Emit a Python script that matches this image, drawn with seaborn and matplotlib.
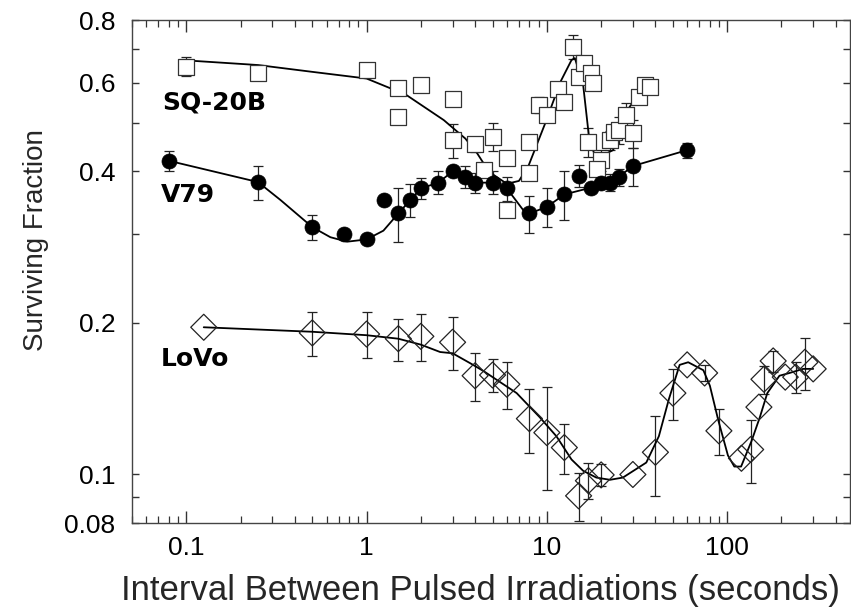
import numpy as np
import matplotlib
matplotlib.use("Agg")
import matplotlib.pyplot as plt
import matplotlib.ticker as mticker
import seaborn as sns

# SQ-20B (open squares)
sq_x = [0.1, 0.25, 1.0, 1.5, 1.5, 2.0, 3.0, 3.0, 4.0, 4.5, 5.0, 6.0, 6.0, 8.0, 8.0,
        9.0, 10.0, 11.5, 12.5, 14.0, 15.0, 16.0, 17.5, 18.0, 17.0, 20.0, 19.0,
        22.5, 23.5, 25.0, 27.5, 30.0, 32.5, 35.0, 37.5]
sq_y = [0.646, 0.627, 0.636, 0.587, 0.513, 0.593, 0.558, 0.461, 0.453, 0.403, 0.469,
        0.425, 0.335, 0.458, 0.397, 0.542, 0.518, 0.583, 0.550, 0.708, 0.616, 0.656,
        0.628, 0.600, 0.458, 0.421, 0.405, 0.462, 0.480, 0.484, 0.518, 0.476, 0.563,
        0.594, 0.588]
sq_err = [0.028, 0, 0, 0, 0, 0, 0, 0.035, 0.015, 0, 0.03, 0, 0, 0, 0,
          0.02, 0, 0, 0, 0.04, 0, 0, 0, 0, 0.03, 0.02, 0,
          0.02, 0, 0.03, 0.03, 0.03, 0, 0, 0]
sq_fit_x = [0.1, 0.25, 0.5, 1.0, 1.36, 1.67, 2.68, 3.53, 4.1, 4.46, 5.0, 6.0, 7.0, 7.9,
            9.8, 11.9, 13.7, 14.3, 15.9, 17.2, 18.4, 19.7, 23.3, 26.0, 28.8, 31.5]
sq_fit_y = [0.665, 0.651, 0.631, 0.612, 0.585, 0.567, 0.506, 0.465, 0.435, 0.415, 0.395,
            0.378, 0.383, 0.410, 0.499, 0.603, 0.666, 0.672, 0.594, 0.462, 0.432, 0.428,
            0.441, 0.492, 0.538, 0.560]

# V79 (filled circles)
v79_x = [0.08, 0.25, 0.5, 0.75, 1.0, 1.25, 1.5, 1.75, 2.0, 2.5, 3.0, 3.5, 4.0, 5.0,
         6.0, 8.0, 10.0, 12.5, 15.0, 17.5, 20.0, 22.5, 25.0, 30.0, 60.0]
v79_y = [0.420, 0.381, 0.310, 0.301, 0.293, 0.351, 0.330, 0.351, 0.370, 0.380, 0.400,
         0.390, 0.380, 0.380, 0.370, 0.330, 0.340, 0.360, 0.392, 0.370, 0.380, 0.380,
         0.390, 0.410, 0.441]
v79_err = [0.02, 0.03, 0.018, 0, 0, 0, 0.04, 0.027, 0.018, 0.02, 0, 0.02, 0.018, 0.02,
           0.02, 0.028, 0.03, 0.04, 0.02, 0, 0, 0.015, 0.015, 0.035, 0.015]
v79_fit_x = [0.08, 0.25, 0.333, 0.5, 0.63, 0.78, 1.0, 1.24, 1.5, 1.75, 2.0, 2.5, 3.0,
             3.5, 4.0, 5.0, 6.0, 7.4, 8.0, 10.0, 12.5, 15.9, 17.5, 20.0, 22.5, 25.0,
             30.0, 60.0]
v79_fit_y = [0.420, 0.381, 0.351, 0.310, 0.296, 0.290, 0.293, 0.305, 0.330, 0.351, 0.370,
             0.380, 0.400, 0.390, 0.380, 0.380, 0.370, 0.335, 0.330, 0.340, 0.360, 0.368,
             0.370, 0.380, 0.380, 0.390, 0.410, 0.441]

# LoVo (open diamonds)
lovo_x = [0.125, 0.5, 1.0, 1.5, 2.0, 3.0, 4.0, 5.0, 6.0, 8.0, 10.0, 12.5, 15.0, 17.0,
          20.0, 30.0, 40.0, 50.0, 60.0, 75.0, 90.0, 120.0, 135.0, 150.0, 160.0, 180.0,
          210.0, 240.0, 270.0, 300.0]
lovo_y = [0.196, 0.191, 0.190, 0.186, 0.188, 0.183, 0.157, 0.1575, 0.151, 0.129, 0.121,
          0.113, 0.0906, 0.0971, 0.0997, 0.0999, 0.1106, 0.145, 0.165, 0.159, 0.122,
          0.1076, 0.112, 0.136, 0.1545, 0.168, 0.156, 0.156, 0.167, 0.162]
lovo_err = [0, 0.019, 0.02, 0.018, 0.02, 0.022, 0.017, 0.012, 0.016, 0.019, 0.028, 0.013,
            0.01, 0.008, 0.005, 0, 0.02, 0.017, 0, 0.006, 0.013, 0, 0.016, 0, 0.01, 0.008,
            0, 0.011, 0.02, 0]
lovo_fit_x = [0.125, 0.5, 1.0, 1.5, 2.0, 2.56, 3.0, 3.9, 4.5, 6.8, 9.1, 11.3, 13.7, 15.9,
              18.8, 22.4, 26.4, 35.6, 41.8, 47.5, 54.5, 60.8, 73.8, 80.2, 89.3, 101.0,
              109.6, 119.5, 136.6, 152.0, 167.0, 195.0, 222.0, 264.0, 300.0]
lovo_fit_y = [0.196, 0.192, 0.189, 0.186, 0.181, 0.175, 0.174, 0.165, 0.160, 0.145, 0.130,
              0.119, 0.107, 0.1016, 0.0985, 0.0975, 0.0985, 0.1055, 0.119, 0.141, 0.165,
              0.167, 0.161, 0.150, 0.128, 0.109, 0.1036, 0.1036, 0.1165, 0.130, 0.145,
              0.157, 0.159, 0.162, 0.162]

y_ticks = [0.08, 0.1, 0.2, 0.4, 0.6, 0.8]
y_minor = [0.09, 0.3, 0.5, 0.7]
x_ticks = [0.1, 1, 10, 100]
x_labels = ["0.1", "1", "10", "100"]

sns.set_theme(style="ticks")
plt.rcParams['font.family'] = ['Liberation Sans', 'DejaVu Sans']
plt.rcParams.update({
    'xtick.direction': 'in', 'ytick.direction': 'in',
    'xtick.top': True, 'ytick.right': True,
    'axes.edgecolor': '#444444', 'axes.linewidth': 1.0,
})

fig = plt.figure(figsize=(8.51, 6.12), dpi=100)
ax = fig.add_axes([0.1551, 0.1454, 0.8437, 0.8219])
ax.set_xscale('log')
ax.set_yscale('log')

# fitted curves
for fx, fy in [(sq_fit_x, sq_fit_y), (v79_fit_x, v79_fit_y), (lovo_fit_x, lovo_fit_y)]:
    sns.lineplot(x=fx, y=fy, color='black', linewidth=1.3, sort=False,
                 estimator=None, ax=ax, zorder=2)

# error bars (only where visible)
for xs, ys, es in [(sq_x, sq_y, sq_err), (v79_x, v79_y, v79_err), (lovo_x, lovo_y, lovo_err)]:
    xs, ys, es = np.array(xs), np.array(ys), np.array(es)
    m = es > 0
    ax.errorbar(xs[m], ys[m], yerr=es[m], fmt='none', ecolor='#222222',
                elinewidth=0.9, capsize=3.6, capthick=0.9, zorder=1)

sns.scatterplot(x=sq_x, y=sq_y, marker='s', s=142, color='black',
                facecolor='white', edgecolor='#333333', linewidth=0.9, ax=ax, zorder=3)
sns.scatterplot(x=v79_x, y=v79_y, marker='o', s=117, color='black',
                edgecolor='black', linewidth=0.5, ax=ax, zorder=4)
sns.scatterplot(x=lovo_x, y=lovo_y, marker='D', s=175, color='black',
                facecolor='none', edgecolor='#222222', linewidth=0.9, ax=ax, zorder=3)

ax.set_xlim(0.05, 480)
ax.set_ylim(0.08, 0.8)

ax.xaxis.set_major_locator(mticker.FixedLocator(x_ticks))
ax.xaxis.set_major_formatter(mticker.FixedFormatter(x_labels))
ax.xaxis.set_minor_locator(mticker.LogLocator(base=10, subs=np.arange(2, 10), numticks=20))
ax.xaxis.set_minor_formatter(mticker.NullFormatter())
ax.yaxis.set_major_locator(mticker.FixedLocator(y_ticks))
ax.yaxis.set_major_formatter(mticker.FixedFormatter([str(v) for v in y_ticks]))
ax.yaxis.set_minor_locator(mticker.FixedLocator(y_minor))
ax.yaxis.set_minor_formatter(mticker.NullFormatter())

ax.tick_params(axis='x', which='major', length=8.5, width=1.0, color='#333333',
               labelsize=19, pad=9, labelcolor='black')
ax.tick_params(axis='x', which='minor', length=5, width=0.9, color='#333333')
ax.tick_params(axis='y', which='both', length=5, width=1.0, color='#333333',
               labelsize=19, pad=12, labelcolor='black')

ax.set_xlabel('Interval Between Pulsed Irradiations (seconds)', fontsize=25)
ax.xaxis.set_label_coords(0.486, -0.102)
ax.set_ylabel('Surviving Fraction', fontsize=20)
ax.yaxis.set_label_coords(-0.115, 0.563)

lab = dict(transform=ax.transAxes, fontsize=18, fontweight='bold',
           family=['DejaVu Sans'], va='center', ha='left', color='black')
ax.text(0.0418, 0.837, 'SQ-20B', **lab)
ax.text(0.0404, 0.652, 'V79', **lab)
ax.text(0.0404, 0.326, 'LoVo', **lab)

fig.savefig('out.png', dpi=100, facecolor='white')
